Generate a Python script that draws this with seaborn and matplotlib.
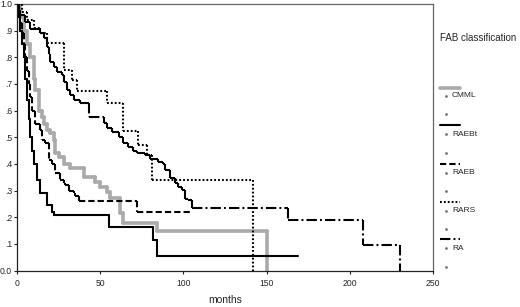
import numpy as np
import pandas as pd
import matplotlib
matplotlib.use("Agg")
import matplotlib.pyplot as plt
import seaborn as sns
from matplotlib.lines import Line2D

# ---------------- data (Kaplan-Meier step points: time in months, survival) ----
groups = ["CMML", "RAEBt", "RAEB", "RARS", "RA"]

cmml_t = [0, 2, 4, 6, 8, 10, 11, 13, 15, 16, 18, 20, 22, 23, 25, 28, 32, 40, 47, 50, 54, 56, 62, 64, 84, 150]
cmml_s = [1.0, 0.95, 0.9, 0.85, 0.8, 0.72, 0.676, 0.60, 0.577, 0.55, 0.527, 0.515, 0.49, 0.44, 0.427, 0.40,
          0.383, 0.352, 0.333, 0.314, 0.296, 0.271, 0.215, 0.18, 0.147, 0.0]

raebt_t = [0, 1, 2, 3, 4, 5, 6, 7, 8, 9, 10, 12, 14, 18, 21, 22, 55, 82, 84, 169]
raebt_s = [1.0, 0.95, 0.9, 0.85, 0.8, 0.72, 0.64, 0.57, 0.5, 0.45, 0.4, 0.34, 0.29, 0.245, 0.22, 0.208,
           0.164, 0.115, 0.056, 0.056]

raeb_t = [0, 1, 2, 3, 4, 5, 6, 7, 8, 9, 11, 14, 15, 17, 19, 21, 23, 26, 28, 29, 31, 34, 35, 37, 72, 104]
raeb_s = [1.0, 0.97, 0.93, 0.89, 0.85, 0.8, 0.75, 0.7, 0.65, 0.6, 0.55, 0.527, 0.49, 0.477, 0.414, 0.4,
          0.364, 0.34, 0.33, 0.32, 0.30, 0.29, 0.28, 0.26, 0.219, 0.219]

rars_t = [0, 3, 6, 10, 14, 18, 28, 33, 36, 54, 64, 73, 78, 81, 142]
rars_s = [1.0, 0.97, 0.94, 0.91, 0.89, 0.852, 0.752, 0.714, 0.674, 0.627, 0.524, 0.47, 0.433, 0.339, 0.0]

ra_t = [0, 1, 2, 5, 8, 14, 16, 18, 19, 20, 22, 24, 27, 28, 30, 32, 34, 38, 43, 52, 54, 57, 61, 64, 67,
        70, 72, 77, 80, 85, 88, 89, 92, 95, 97, 99, 101, 103, 105, 163, 208, 230]
ra_s = [1.0, 0.977, 0.958, 0.933, 0.905, 0.893, 0.871, 0.839, 0.814, 0.783, 0.764, 0.745, 0.733, 0.708,
        0.677, 0.658, 0.639, 0.627, 0.577, 0.552, 0.533, 0.52, 0.502, 0.477, 0.464, 0.45, 0.44, 0.433,
        0.42, 0.408, 0.40, 0.377, 0.346, 0.327, 0.314, 0.302, 0.27, 0.264, 0.233, 0.189, 0.096, 0.0]

y_ticks = [0.0, 0.1, 0.2, 0.3, 0.4, 0.5, 0.6, 0.7, 0.8, 0.9, 1.0]
y_tick_labels = ["0.0", ".1", ".2", ".3", ".4", ".5", ".6", ".7", ".8", ".9", "1.0"]
x_ticks = [0, 50, 100, 150, 200, 250]
x_tick_labels = ["0", "50", "100", "150", "200", "250"]
x_label = "months"
legend_title = "FAB classification"

series = {"CMML": (cmml_t, cmml_s), "RAEBt": (raebt_t, raebt_s), "RAEB": (raeb_t, raeb_s),
          "RARS": (rars_t, rars_s), "RA": (ra_t, ra_s)}

# ---------------- styling ------------------------------------------------------
sns.set_style("white")
plt.rcParams["font.family"] = ["Liberation Sans", "DejaVu Sans"]
plt.rcParams["lines.scale_dashes"] = False

styles = {
    "CMML":  dict(color="#aaaaaa", lw=2.6, ls="-", z=2),
    "RAEBt": dict(color="black", lw=1.5, ls="-", z=3),
    "RAEB":  dict(color="black", lw=1.5, ls=(0, (4.5, 2.2)), z=3),
    "RARS":  dict(color="black", lw=1.5, ls=(0, (1.3, 1.5)), z=3),
    "RA":    dict(color="black", lw=1.5, ls=(0, (7.5, 2.2, 1.4, 2.2)), z=3),
}


def to_segments(name, t, s):
    rows = []
    seg = 0
    for i in range(len(t) - 1):
        rows.append((name, seg, t[i], s[i]))
        rows.append((name, seg, t[i + 1], s[i]))
        seg += 1
        if s[i + 1] != s[i]:
            rows.append((name, seg, t[i + 1], s[i]))
            rows.append((name, seg, t[i + 1], s[i + 1]))
            seg += 1
    return rows


rows = []
for g in groups:
    rows += to_segments(g, *series[g])
df = pd.DataFrame(rows, columns=["group", "seg", "months", "surv"])

fig = plt.figure(figsize=(5.2, 3.07), dpi=100)
W, H = 520.0, 307.0
ax = fig.add_axes([17 / W, 1 - 270.5 / H, 416 / W, 266.5 / H])

for g in groups:
    st = styles[g]
    sns.lineplot(data=df[df.group == g], x="months", y="surv", units="seg", estimator=None,
                 sort=False, color=st["color"], linewidth=st["lw"], linestyle=st["ls"],
                 legend=False, ax=ax, zorder=st["z"])

ax.set_xlim(0, 250)
ax.set_ylim(0, 1.0)
ax.set_xticks(x_ticks)
ax.set_xticklabels(x_tick_labels)
ax.set_yticks(y_ticks)
ax.set_yticklabels(y_tick_labels)
ax.set_xlabel(x_label, fontsize=7.5, labelpad=5)
ax.set_ylabel("")
ax.tick_params(axis="both", direction="out", length=2, width=0.8, color="#222222",
               labelsize=6.2, pad=1.5, left=True, bottom=True)
ax.tick_params(axis="x", pad=4)
for side in ["left", "bottom"]:
    ax.spines[side].set_color("#222222")
    ax.spines[side].set_linewidth(0.9)
for side in ["top", "right"]:
    ax.spines[side].set_visible(True)
    ax.spines[side].set_color("#666666")
    ax.spines[side].set_linewidth(0.9)

# ---------------- legend (SPSS style) -----------------------------------------
fig.text(440 / W, 1 - 38 / H, legend_title, fontsize=7, ha="left", va="center")
line_y = [88, 125, 164, 202, 239]
label_y = [96, 134, 173, 211, 248]
dot_y = [114, 153, 191, 229, 267]
for g, ly, ty, dy in zip(groups, line_y, label_y, dot_y):
    st = styles[g]
    fig.add_artist(Line2D([440 / W, 460 / W], [1 - ly / H] * 2, transform=fig.transFigure,
                          color=st["color"], lw=st["lw"], linestyle=st["ls"]))
    fig.text(452 / W, 1 - ty / H, g, fontsize=6, ha="left", va="center")
    for yy in (ty, dy):
        fig.add_artist(Line2D([446 / W], [1 - yy / H], transform=fig.transFigure,
                              marker="o", ms=1.0, color="#777777", lw=0))

fig.savefig("out.png", dpi=100)
